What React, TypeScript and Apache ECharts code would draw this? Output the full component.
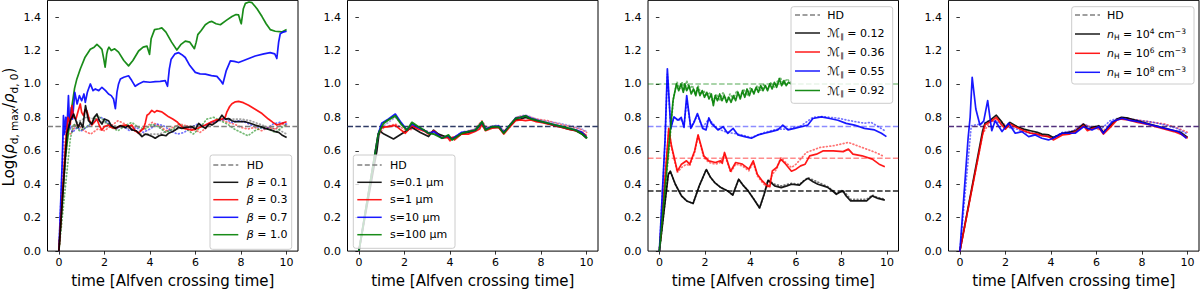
import React, { useEffect, useRef } from "react";
import * as echarts from "echarts";

// ---------------- DATA ----------------
const HD_LEVEL = 0.745;
const P3_LEVELS = { green: 1.0, blue: 0.745, red: 0.555, black: 0.36 };
const X_TICKS = [0, 2, 4, 6, 8, 10];
const Y_TICKS = [0, 0.2, 0.4, 0.6, 0.8, 1.0, 1.2, 1.4];

// Panel 1 (beta)
const beta01 = [[0,0],[0.35,0.7],[0.5,0.78],[0.65,0.82],[0.75,0.78],[0.85,0.74],[0.94,0.77],[1.05,0.74],[1.17,0.87],[1.3,0.78],[1.45,0.76],[1.55,0.8],[1.67,0.82],[1.78,0.78],[1.89,0.76],[2.0,0.79],[2.18,0.78],[2.3,0.75],[2.48,0.735],[2.7,0.75],[2.92,0.74],[3.05,0.75],[3.2,0.725],[3.4,0.72],[3.65,0.685],[3.8,0.7],[3.94,0.695],[4.1,0.685],[4.23,0.675],[4.4,0.69],[4.52,0.695],[4.7,0.69],[4.82,0.705],[5.0,0.715],[5.11,0.724],[5.25,0.74],[5.4,0.734],[5.6,0.74],[5.84,0.744],[6.0,0.73],[6.14,0.764],[6.3,0.745],[6.43,0.734],[6.6,0.76],[6.72,0.754],[6.9,0.77],[7.01,0.783],[7.16,0.813],[7.3,0.79],[7.45,0.793],[7.6,0.78],[7.74,0.774],[8.0,0.775],[8.18,0.774],[8.4,0.765],[8.62,0.754],[8.85,0.745],[9.06,0.734],[9.3,0.725],[9.5,0.715],[9.65,0.71],[9.79,0.695],[10,0.68]];
const beta03 = [[0,0],[0.3,0.65],[0.4,0.8],[0.5,0.76],[0.57,0.87],[0.65,0.8],[0.75,0.79],[0.85,0.84],[0.94,0.88],[1.0,0.83],[1.08,0.81],[1.15,0.845],[1.23,0.84],[1.35,0.78],[1.45,0.754],[1.55,0.77],[1.67,0.79],[1.78,0.75],[1.89,0.724],[2.0,0.745],[2.18,0.754],[2.3,0.74],[2.48,0.734],[2.7,0.75],[2.92,0.754],[3.05,0.745],[3.2,0.754],[3.35,0.72],[3.5,0.705],[3.6,0.72],[3.72,0.734],[3.8,0.77],[3.87,0.813],[3.95,0.82],[4.08,0.842],[4.2,0.83],[4.3,0.84],[4.52,0.833],[4.65,0.82],[4.82,0.803],[5.0,0.79],[5.18,0.774],[5.35,0.75],[5.48,0.734],[5.65,0.73],[5.84,0.724],[6.1,0.735],[6.43,0.754],[6.65,0.77],[6.87,0.783],[7.16,0.79],[7.3,0.8],[7.38,0.833],[7.5,0.865],[7.6,0.882],[7.75,0.893],[7.89,0.896],[8.1,0.888],[8.33,0.872],[8.6,0.85],[8.92,0.823],[9.2,0.79],[9.4,0.77],[9.57,0.754],[9.79,0.764],[10,0.774]];
const beta07 = [[0,0],[0.15,0.55],[0.2,0.81],[0.25,0.7],[0.3,0.8],[0.35,0.72],[0.42,0.93],[0.47,0.74],[0.55,0.86],[0.6,0.79],[0.7,0.95],[0.8,0.88],[0.9,0.93],[1.0,0.9],[1.1,0.94],[1.16,0.89],[1.25,0.95],[1.38,1.0],[1.5,0.96],[1.6,0.97],[1.75,0.96],[1.89,0.98],[2.05,0.96],[2.18,0.94],[2.3,0.93],[2.4,0.91],[2.48,0.852],[2.55,0.951],[2.62,1.0],[2.7,1.03],[2.85,1.04],[3.06,1.049],[3.2,1.02],[3.35,0.986],[3.5,1.0],[3.72,1.014],[4.0,1.01],[4.23,1.014],[4.45,1.015],[4.67,1.02],[4.77,0.986],[4.85,1.09],[4.93,1.148],[5.1,1.18],[5.26,1.187],[5.4,1.175],[5.55,1.158],[5.75,1.11],[5.99,1.069],[6.2,1.06],[6.43,1.059],[6.7,1.05],[6.94,1.045],[7.1,1.02],[7.2,1.0],[7.35,1.08],[7.53,1.138],[7.7,1.135],[7.89,1.128],[8.2,1.145],[8.62,1.167],[9.0,1.18],[9.28,1.187],[9.48,1.18],[9.57,1.152],[9.65,1.25],[9.72,1.3],[9.85,1.31],[10,1.315]];
const beta10 = [[0,0],[0.28,0.557],[0.5,0.8],[0.69,0.975],[0.79,1.03],[0.94,1.089],[1.15,1.16],[1.38,1.207],[1.55,1.22],[1.67,1.236],[1.8,1.22],[1.89,1.207],[1.97,1.15],[2.03,1.1],[2.1,1.18],[2.15,1.207],[2.2,1.22],[2.3,1.2],[2.45,1.21],[2.62,1.19],[2.85,1.14],[3.06,1.108],[3.25,1.14],[3.5,1.197],[3.7,1.22],[3.87,1.226],[3.98,1.177],[4.05,1.27],[4.2,1.325],[4.4,1.33],[4.52,1.335],[4.7,1.31],[4.95,1.25],[5.18,1.203],[5.35,1.235],[5.55,1.256],[5.75,1.25],[5.95,1.211],[6.03,1.25],[6.1,1.295],[6.25,1.32],[6.43,1.354],[6.6,1.37],[6.72,1.374],[6.9,1.36],[7.09,1.354],[7.35,1.38],[7.6,1.403],[7.78,1.415],[7.89,1.413],[7.98,1.37],[8.01,1.36],[8.1,1.45],[8.19,1.482],[8.35,1.49],[8.48,1.486],[8.7,1.45],[8.92,1.403],[9.1,1.36],[9.28,1.325],[9.5,1.315],[9.79,1.311],[10,1.325]];
const beta01Dot = [[0,0],[0.4,0.72],[0.8,0.77],[1.2,0.8],[1.6,0.79],[2.0,0.77],[2.4,0.75],[2.8,0.74],[3.2,0.73],[3.6,0.7],[4.0,0.7],[4.4,0.7],[4.8,0.72],[5.2,0.73],[5.6,0.75],[6.0,0.75],[6.4,0.75],[6.8,0.77],[7.2,0.79],[7.6,0.79],[8.0,0.79],[8.4,0.78],[8.8,0.76],[9.2,0.74],[9.6,0.73],[10,0.7]];
const beta03Dot = [[0,0],[0.3,0.72],[0.5,0.7],[0.8,0.76],[1.1,0.72],[1.4,0.7],[1.7,0.73],[2.0,0.72],[2.3,0.75],[2.6,0.78],[2.9,0.76],[3.2,0.73],[3.5,0.71],[3.8,0.74],[4.1,0.77],[4.4,0.75],[4.7,0.72],[5.0,0.74],[5.3,0.76],[5.6,0.75],[5.9,0.73],[6.2,0.71],[6.5,0.74],[6.8,0.77],[7.1,0.79],[7.4,0.77],[7.7,0.76],[8.0,0.74],[8.3,0.73],[8.6,0.74],[8.9,0.72],[9.2,0.74],[9.5,0.73],[9.8,0.76],[10,0.75]];
const beta07Dot = [[0,0],[0.2,0.7],[0.4,0.76],[0.6,0.71],[0.8,0.74],[1.0,0.72],[1.3,0.75],[1.6,0.78],[1.9,0.8],[2.2,0.76],[2.5,0.73],[2.8,0.75],[3.1,0.72],[3.4,0.74],[3.7,0.71],[4.0,0.73],[4.3,0.76],[4.6,0.75],[4.9,0.72],[5.2,0.7],[5.5,0.71],[5.8,0.74],[6.1,0.76],[6.4,0.75],[6.7,0.77],[7.0,0.78],[7.3,0.79],[7.6,0.77],[7.9,0.78],[8.2,0.77],[8.5,0.75],[8.8,0.74],[9.1,0.73],[9.4,0.76],[9.7,0.77],[10,0.76]];
const beta10Dot = [[0,0],[0.5,0.67],[0.65,0.76],[0.9,0.72],[1.2,0.74],[1.5,0.78],[1.7,0.81],[2.0,0.78],[2.3,0.74],[2.6,0.72],[2.9,0.75],[3.2,0.77],[3.5,0.74],[3.8,0.73],[4.1,0.76],[4.4,0.74],[4.7,0.71],[5.0,0.73],[5.3,0.76],[5.6,0.73],[5.9,0.7],[6.2,0.74],[6.5,0.79],[6.8,0.8],[7.1,0.78],[7.4,0.76],[7.7,0.73],[8.0,0.71],[8.3,0.69],[8.6,0.72],[8.9,0.74],[9.2,0.73],[9.5,0.71],[9.8,0.74],[10,0.76]];

// Panel 2 (grain size)
const s01 = [[0,0],[0.79,0.6],[0.9,0.72],[1.1,0.7],[1.52,0.671],[2.04,0.715],[2.33,0.74],[2.7,0.71],[3.06,0.685],[3.28,0.724],[3.5,0.7],[3.7,0.69],[3.9,0.68],[4.1,0.675],[4.3,0.685],[4.5,0.7],[4.8,0.71],[5.1,0.72],[5.4,0.76],[5.55,0.73],[5.85,0.74],[6.14,0.74],[6.36,0.71],[6.58,0.74],[6.88,0.785],[7.1,0.79],[7.32,0.8],[7.55,0.79],[7.76,0.78],[8.0,0.775],[8.34,0.76],[8.6,0.75],[8.93,0.74],[9.2,0.73],[9.52,0.72],[9.8,0.7],[10,0.675]];
const s1 = [[0,0],[0.85,0.7],[1.0,0.74],[1.3,0.745],[1.6,0.752],[1.8,0.73],[2.04,0.705],[2.33,0.75],[2.6,0.73],[2.9,0.715],[3.06,0.7],[3.3,0.72],[3.5,0.69],[3.7,0.675],[3.9,0.68],[4.0,0.66],[4.09,0.68],[4.2,0.665],[4.5,0.7],[4.8,0.7],[5.1,0.715],[5.3,0.73],[5.4,0.76],[5.56,0.72],[5.85,0.735],[6.14,0.74],[6.36,0.7],[6.58,0.735],[6.88,0.78],[7.1,0.785],[7.32,0.78],[7.55,0.785],[7.76,0.775],[8.0,0.77],[8.34,0.76],[8.6,0.75],[8.93,0.74],[9.2,0.73],[9.52,0.72],[9.8,0.71],[10,0.69]];
const s10 = [[0,0],[0.85,0.7],[1.0,0.765],[1.3,0.79],[1.6,0.82],[1.85,0.77],[2.11,0.725],[2.33,0.76],[2.6,0.74],[2.9,0.72],[3.06,0.705],[3.3,0.715],[3.65,0.675],[3.9,0.69],[4.09,0.67],[4.5,0.71],[4.8,0.715],[5.12,0.724],[5.41,0.77],[5.56,0.728],[5.85,0.745],[6.14,0.748],[6.36,0.71],[6.58,0.745],[6.88,0.795],[7.1,0.8],[7.32,0.81],[7.55,0.795],[7.76,0.785],[8.0,0.775],[8.34,0.765],[8.6,0.755],[8.93,0.745],[9.2,0.735],[9.52,0.725],[9.8,0.71],[10,0.68]];
const s100 = [[0,0],[0.85,0.7],[1.08,0.764],[1.3,0.785],[1.6,0.809],[1.85,0.76],[2.11,0.724],[2.33,0.77],[2.6,0.745],[2.9,0.72],[3.06,0.705],[3.3,0.7],[3.65,0.675],[3.94,0.695],[4.09,0.665],[4.53,0.705],[4.8,0.715],[5.12,0.724],[5.41,0.774],[5.56,0.724],[5.85,0.744],[6.14,0.744],[6.36,0.705],[6.58,0.744],[6.88,0.793],[7.1,0.8],[7.32,0.809],[7.55,0.79],[7.76,0.784],[8.0,0.775],[8.34,0.764],[8.6,0.755],[8.93,0.744],[9.2,0.735],[9.52,0.724],[9.8,0.7],[10.03,0.675]];
const s1Dot = [[0,0],[0.85,0.69],[1.1,0.74],[1.6,0.76],[2.1,0.72],[2.6,0.74],[3.1,0.71],[3.6,0.69],[4.1,0.68],[4.6,0.71],[5.1,0.73],[5.4,0.78],[5.6,0.74],[6.1,0.75],[6.4,0.72],[6.9,0.8],[7.3,0.81],[7.8,0.79],[8.3,0.78],[8.8,0.76],[9.3,0.745],[9.8,0.725],[10,0.71]];
const s10Dot = [[0,0],[0.85,0.7],[1.1,0.75],[1.6,0.8],[2.1,0.73],[2.6,0.745],[3.1,0.71],[3.6,0.685],[4.1,0.675],[4.6,0.715],[5.1,0.73],[5.4,0.77],[5.6,0.735],[6.1,0.755],[6.4,0.715],[6.9,0.8],[7.3,0.815],[7.8,0.79],[8.3,0.775],[8.8,0.765],[9.3,0.75],[9.8,0.73],[10,0.715]];

// Panel 3 (Mach number)
const M012 = [[0,0],[0.39,0.458],[0.48,0.478],[0.7,0.4],[0.97,0.33],[1.2,0.3],[1.48,0.285],[1.75,0.39],[2.06,0.488],[2.25,0.44],[2.43,0.41],[2.7,0.38],[3.0,0.36],[3.22,0.335],[3.48,0.43],[3.7,0.39],[3.9,0.36],[4.15,0.31],[4.4,0.258],[4.6,0.34],[4.77,0.423],[4.9,0.41],[5.06,0.39],[5.35,0.38],[5.6,0.39],[5.8,0.4],[6.15,0.395],[6.35,0.42],[6.52,0.435],[6.75,0.415],[6.96,0.4],[7.2,0.39],[7.4,0.38],[7.6,0.36],[7.77,0.34],[7.9,0.35],[8.06,0.36],[8.2,0.33],[8.4,0.3],[8.8,0.3],[9.1,0.3],[9.35,0.33],[9.6,0.315],[9.9,0.305]];
const M012Dot = [[0,0],[0.39,0.458],[0.48,0.478],[0.7,0.4],[0.97,0.33],[1.2,0.3],[1.48,0.285],[1.75,0.39],[2.06,0.488],[2.25,0.44],[2.43,0.41],[2.7,0.38],[3.0,0.36],[3.22,0.335],[3.48,0.43],[3.7,0.39],[3.9,0.36],[4.15,0.31],[4.4,0.258],[4.6,0.34],[4.77,0.425],[5.06,0.4],[5.35,0.39],[5.8,0.405],[6.15,0.4],[6.52,0.44],[7.0,0.41],[7.4,0.385],[7.77,0.345],[8.06,0.365],[8.4,0.31],[8.8,0.31],[9.1,0.31],[9.35,0.335],[9.6,0.32],[9.9,0.31]];
const M036 = [[0,0],[0.38,0.675],[0.41,0.734],[0.53,0.63],[0.79,0.478],[0.97,0.52],[1.19,0.54],[1.33,0.52],[1.55,0.6],[1.7,0.695],[1.95,0.57],[2.17,0.54],[2.46,0.53],[2.68,0.54],[2.76,0.525],[2.86,0.59],[3.13,0.478],[3.35,0.53],[3.64,0.52],[3.93,0.49],[4.12,0.54],[4.3,0.46],[4.52,0.42],[4.74,0.39],[4.85,0.385],[4.96,0.48],[5.15,0.5],[5.33,0.55],[5.55,0.52],[5.8,0.478],[6.0,0.49],[6.2,0.51],[6.4,0.52],[6.6,0.57],[6.9,0.58],[7.2,0.6],[7.63,0.6],[8.07,0.595],[8.3,0.61],[8.5,0.58],[8.9,0.57],[9.35,0.55],[9.65,0.52],[9.9,0.505]];
const M036Dot = [[0,0],[0.38,0.67],[0.41,0.73],[0.53,0.62],[0.79,0.47],[0.97,0.5],[1.19,0.52],[1.33,0.51],[1.55,0.59],[1.7,0.69],[1.95,0.56],[2.17,0.53],[2.46,0.52],[2.68,0.53],[2.86,0.58],[3.13,0.47],[3.35,0.52],[3.64,0.51],[3.93,0.48],[4.12,0.53],[4.3,0.45],[4.52,0.41],[4.74,0.38],[4.96,0.46],[5.15,0.49],[5.33,0.56],[5.55,0.53],[5.8,0.5],[6.0,0.52],[6.2,0.55],[6.45,0.59],[7.05,0.62],[7.63,0.63],[8.3,0.65],[8.9,0.62],[9.5,0.59],[9.8,0.57]];
const M055 = [[0,0],[0.25,0.67],[0.35,1.09],[0.5,0.734],[0.64,0.803],[0.82,0.783],[0.96,0.8],[1.08,0.74],[1.2,0.93],[1.38,0.734],[1.52,0.77],[1.67,0.823],[1.81,0.77],[1.9,0.734],[2.05,0.725],[2.17,0.797],[2.28,0.764],[2.43,0.744],[2.57,0.725],[2.8,0.744],[3.0,0.705],[3.24,0.734],[3.45,0.695],[3.74,0.685],[4.04,0.675],[4.33,0.695],[4.62,0.705],[4.91,0.715],[5.2,0.725],[5.42,0.754],[5.65,0.725],[5.94,0.734],[6.23,0.744],[6.52,0.754],[6.74,0.793],[7.11,0.803],[7.48,0.793],[7.84,0.783],[8.2,0.764],[8.57,0.754],[9.0,0.734],[9.45,0.725],[9.75,0.705],[9.97,0.685]];
const M055Dot = [[0,0],[0.25,0.66],[0.35,1.06],[0.5,0.74],[0.64,0.8],[0.82,0.78],[0.96,0.79],[1.08,0.75],[1.2,0.9],[1.38,0.74],[1.67,0.81],[1.9,0.74],[2.17,0.79],[2.57,0.73],[3.0,0.71],[3.45,0.7],[4.04,0.68],[4.62,0.71],[5.2,0.73],[5.65,0.73],[6.23,0.75],[6.74,0.8],[7.11,0.805],[7.48,0.8],[7.84,0.795],[8.2,0.785],[8.57,0.775],[9.0,0.765],[9.3,0.77],[9.6,0.745],[9.9,0.72]];
const M092 = [[0,0],[0.41,0.62],[0.6,0.9],[0.75,1.0],[0.85,0.96],[0.95,1.0],[1.05,0.95],[1.12,1.0],[1.2,0.96],[1.3,0.99],[1.4,0.94],[1.5,0.97],[1.6,0.93],[1.68,0.98],[1.78,0.93],[1.88,0.96],[1.98,0.92],[2.08,0.95],[2.18,0.91],[2.28,0.94],[2.37,0.87],[2.45,0.93],[2.55,0.9],[2.65,0.94],[2.75,0.9],[2.85,0.93],[2.95,0.89],[3.05,0.92],[3.15,0.89],[3.25,0.93],[3.35,0.9],[3.45,0.95],[3.55,0.91],[3.65,0.96],[3.75,0.92],[3.85,0.97],[3.95,0.93],[4.05,0.97],[4.15,0.94],[4.25,0.98],[4.35,0.95],[4.45,0.99],[4.55,0.96],[4.65,0.99],[4.75,0.96],[4.85,1.0],[4.95,0.97],[5.05,1.01],[5.15,0.98],[5.27,1.03],[5.37,0.99],[5.47,1.02],[5.57,0.99],[5.67,1.01],[5.77,1.0]];
const M092Dot = [[0,0],[0.45,0.64],[0.62,0.92],[0.78,1.01],[0.9,0.97],[1.0,1.01],[1.1,0.96],[1.2,1.02],[1.32,0.97],[1.45,0.99],[1.58,0.94],[1.7,0.99],[1.82,0.94],[1.95,0.96],[2.05,0.93],[2.2,0.95],[2.35,0.89],[2.5,0.94],[2.65,0.9],[2.8,0.95],[2.95,0.9],[3.1,0.94],[3.25,0.91],[3.4,0.96],[3.55,0.92],[3.7,0.97],[3.85,0.93],[4.0,0.98],[4.15,0.95],[4.3,0.99],[4.45,0.96],[4.6,1.0],[4.75,0.97],[4.9,1.01],[5.05,0.98],[5.2,1.02],[5.3,1.04],[5.45,1.0],[5.6,1.03],[5.77,1.01]];

// Panel 4 (density)
const nH4 = [[0,0],[1.0,0.72],[1.1,0.764],[1.35,0.785],[1.6,0.813],[1.8,0.78],[2.0,0.74],[2.2,0.77],[2.5,0.745],[2.8,0.73],[3.1,0.72],[3.4,0.71],[3.6,0.7],[3.9,0.695],[4.1,0.68],[4.5,0.705],[4.8,0.71],[5.1,0.72],[5.43,0.76],[5.6,0.73],[5.85,0.74],[6.1,0.75],[6.3,0.71],[6.6,0.75],[6.9,0.79],[7.1,0.8],[7.4,0.795],[7.8,0.78],[8.2,0.765],[8.6,0.75],[9.0,0.735],[9.4,0.72],[9.7,0.71],[10,0.68]];
const nH6 = [[0,0],[1.0,0.7],[1.1,0.755],[1.35,0.775],[1.6,0.8],[1.8,0.76],[2.0,0.73],[2.2,0.76],[2.5,0.74],[2.8,0.72],[3.1,0.705],[3.4,0.7],[3.6,0.69],[3.9,0.685],[4.1,0.665],[4.5,0.695],[4.8,0.7],[5.1,0.715],[5.43,0.75],[5.6,0.72],[5.85,0.735],[6.1,0.74],[6.3,0.7],[6.6,0.74],[6.9,0.785],[7.1,0.79],[7.4,0.785],[7.8,0.77],[8.2,0.76],[8.6,0.745],[9.0,0.73],[9.4,0.715],[9.7,0.7],[10,0.675]];
const nH8 = [[0,0],[0.36,0.675],[0.45,0.8],[0.54,1.04],[0.7,0.85],[0.88,0.754],[1.05,0.78],[1.22,0.9],[1.4,0.72],[1.55,0.78],[1.85,0.715],[2.14,0.765],[2.43,0.705],[2.72,0.715],[3.02,0.685],[3.31,0.695],[3.6,0.675],[3.89,0.665],[4.1,0.675],[4.48,0.705],[5.06,0.705],[5.43,0.744],[5.8,0.724],[6.1,0.744],[6.3,0.705],[6.68,0.774],[7.12,0.795],[7.4,0.784],[7.84,0.774],[8.43,0.754],[9.0,0.734],[9.6,0.715],[9.95,0.675]];
const nH8Dot = [[0,0],[0.5,0.75],[0.9,0.76],[1.3,0.78],[1.7,0.77],[2.1,0.74],[2.5,0.73],[2.9,0.71],[3.3,0.7],[3.7,0.69],[4.1,0.68],[4.5,0.71],[5.0,0.72],[5.4,0.76],[5.8,0.74],[6.2,0.73],[6.6,0.78],[7.1,0.8],[7.5,0.79],[8.0,0.78],[8.5,0.77],[9.0,0.755],[9.5,0.735],[10,0.7]];
const nH6Dot = [[0,0],[1.0,0.7],[1.3,0.77],[1.7,0.79],[2.1,0.74],[2.5,0.745],[2.9,0.72],[3.3,0.7],[3.7,0.69],[4.1,0.675],[4.5,0.7],[5.0,0.72],[5.4,0.76],[5.8,0.74],[6.3,0.72],[6.6,0.76],[7.1,0.8],[7.5,0.79],[8.0,0.78],[8.5,0.77],[9.0,0.76],[9.5,0.74],[10,0.71]];

// ---------------- STYLE ----------------
const FONT = "DejaVu Sans";
const GRID_LEFTS = [47.5, 347.5, 648, 948.5];
const GRID_W = 250.5;
const GRID_TOP = 0.35;
const GRID_H = 254;

function solid(data: number[][], i: number, color: string, z = 3, opacity = 0.9, width = 1.7) {
  return {
    type: "line", xAxisIndex: i, yAxisIndex: i, data, symbol: "none", silent: true, z,
    lineStyle: { color, width, opacity, join: "round" },
  };
}
function dotted(data: number[][], i: number, color: string, z = 2, opacity = 0.55) {
  return {
    type: "line", xAxisIndex: i, yAxisIndex: i, data, symbol: "none", silent: true, z,
    lineStyle: { color, width: 1.7, opacity, type: [0.8, 2.6], cap: "round" },
  };
}
function hline(level: number, i: number, color: string, opacity = 1) {
  return {
    type: "line", xAxisIndex: i, yAxisIndex: i, data: [[-0.5, level], [10.5, level]],
    symbol: "none", silent: true, z: 4,
    lineStyle: { color, width: 1.5, opacity, type: [5.5, 2.4] },
  };
}

const LF = 11;
const richMath = {
  it: { fontFamily: FONT, fontSize: LF, fontStyle: "italic", fill: "#000", verticalAlign: "middle", lineHeight: 14 },
  n: { fontFamily: FONT, fontSize: LF, fill: "#000", verticalAlign: "middle", lineHeight: 14 },
  m: { fontFamily: FONT, fontSize: 12, fill: "#000", verticalAlign: "middle", lineHeight: 14 },
  sub: { fontFamily: FONT, fontSize: 7.5, fill: "#000", verticalAlign: "bottom", lineHeight: 8 },
  sup: { fontFamily: FONT, fontSize: 7.5, fill: "#000", verticalAlign: "top", lineHeight: 8 },
};

function legend(box: number[], handleX: number[], textX: number, rows: { y: number; color: string; dash?: boolean; text: string }[]) {
  const children: any[] = [
    {
      type: "rect", shape: { x: box[0], y: box[1], width: box[2] - box[0], height: box[3] - box[1], r: 2.5 },
      style: { fill: "rgba(255,255,255,0.8)", stroke: "#cccccc", lineWidth: 1 }, z: 100,
    },
  ];
  rows.forEach((r) => {
    children.push({
      type: "line", shape: { x1: handleX[0], y1: r.y, x2: handleX[1], y2: r.y },
      style: { stroke: r.color, lineWidth: 1.5, lineDash: r.dash ? [5, 2.5] : null, opacity: r.dash ? 1 : 0.9 }, z: 101,
    });
    children.push({
      type: "text", x: textX, y: r.y, z: 101,
      style: { text: r.text, rich: richMath, fontFamily: FONT, fontSize: LF, fill: "#000", align: "left", verticalAlign: "middle" },
    });
  });
  return children;
}

export default function App() {
  const ref = useRef<HTMLDivElement>(null);
  useEffect(() => {
    if (!ref.current) return;
    const chart = echarts.init(ref.current, undefined, { renderer: "svg" });
    const grids = GRID_LEFTS.map((l) => ({
      left: l, top: GRID_TOP, width: GRID_W, height: GRID_H, show: true,
      borderColor: "#000", borderWidth: 1, backgroundColor: "transparent",
    }));
    const xAxes = GRID_LEFTS.map((_, i) => ({
      type: "value", gridIndex: i, min: -0.5, max: 10.5,
      axisLine: { show: false }, splitLine: { show: false },
      axisTick: { show: true, length: 3.5, lineStyle: { color: "#000", width: 0.8 }, customValues: X_TICKS },
      axisLabel: { color: "#000", fontFamily: FONT, fontSize: 11, margin: 6, customValues: X_TICKS, formatter: (v: number) => String(v) },
      name: "time [Alfven crossing time]", nameLocation: "middle", nameGap: 20,
      nameTextStyle: { color: "#000", fontFamily: FONT, fontSize: 15, verticalAlign: "top" },
    }));
    const yAxes = GRID_LEFTS.map((_, i) => ({
      type: "value", gridIndex: i, min: 0, max: 1.5,
      axisLine: { show: false }, splitLine: { show: false },
      axisTick: { show: true, length: 3.5, lineStyle: { color: "#000", width: 0.8 }, customValues: Y_TICKS },
      axisLabel: { color: "#000", fontFamily: FONT, fontSize: 11, margin: 6.5, customValues: Y_TICKS, formatter: (v: number) => v.toFixed(1) },
    }));

    const series: any[] = [
      // panel 1
      dotted(beta01Dot, 0, "#555555"), dotted(beta03Dot, 0, "#ff0000"), dotted(beta07Dot, 0, "#0000ff"), dotted(beta10Dot, 0, "#008000"),
      hline(HD_LEVEL, 0, "#808080"),
      solid(beta10, 0, "#008000", 5), solid(beta07, 0, "#0000ff", 6), solid(beta03, 0, "#ff0000", 7), solid(beta01, 0, "#000000", 8),
      // panel 2
      dotted(s1Dot, 1, "#ff0000"), dotted(s10Dot, 1, "#6a4fd0"),
      hline(HD_LEVEL, 1, "#2f3b66"),
      solid(s01, 1, "#000000", 5), solid(s1, 1, "#ff0000", 6), solid(s10, 1, "#0000ff", 7), solid(s100, 1, "#008000", 8, 0.9, 1.9),
      // panel 3
      hline(P3_LEVELS.green, 2, "#008000", 0.45), hline(P3_LEVELS.blue, 2, "#0000ff", 0.45),
      hline(P3_LEVELS.red, 2, "#ff0000", 0.45), hline(P3_LEVELS.black, 2, "#000000", 0.85),
      dotted(M012Dot, 2, "#000000"), dotted(M036Dot, 2, "#ff0000"), dotted(M055Dot, 2, "#0000ff"), dotted(M092Dot, 2, "#008000"),
      solid(M012, 2, "#000000", 5), solid(M036, 2, "#ff0000", 6), solid(M055, 2, "#0000ff", 7), solid(M092, 2, "#008000", 8),
      // panel 4
      dotted(nH6Dot, 3, "#ff0000"), dotted(nH8Dot, 3, "#0000ff"),
      hline(HD_LEVEL, 3, "#52307c"),
      solid(nH4, 3, "#000000", 5), solid(nH6, 3, "#ff0000", 6), solid(nH8, 3, "#0000ff", 7),
    ];

    const rowsY5 = [165, 182.3, 199.7, 217.3, 234.7];
    const graphic: any[] = [
      {
        type: "text", x: 9, y: 127, rotation: Math.PI / 2, z: 50,
        style: {
          text: "{a|Log(}{i|ρ}{s|d, max}{a|/}{i|ρ}{s|d, 0}{a|)}",
          align: "center", verticalAlign: "middle",
          rich: {
            a: { fontFamily: FONT, fontSize: 15, fill: "#000", verticalAlign: "middle", lineHeight: 20 },
            i: { fontFamily: FONT, fontSize: 15, fontStyle: "italic", fill: "#000", verticalAlign: "middle", lineHeight: 20 },
            s: { fontFamily: FONT, fontSize: 10.5, fill: "#000", verticalAlign: "bottom", lineHeight: 11 },
          },
        },
      },
      ...legend([210, 155, 291.7, 249.3], [213.3, 238.3], 246.7, [
        { y: rowsY5[0], color: "#808080", dash: true, text: "HD" },
        { y: rowsY5[1], color: "#000000", text: "{it|β}{n| = 0.1}" },
        { y: rowsY5[2], color: "#ff0000", text: "{it|β}{n| = 0.3}" },
        { y: rowsY5[3], color: "#0000ff", text: "{it|β}{n| = 0.7}" },
        { y: rowsY5[4], color: "#008000", text: "{it|β}{n| = 1.0}" },
      ]),
      ...legend([353.3, 155, 455, 248.3], [357.3, 381.7], 390, [
        { y: rowsY5[0], color: "#808080", dash: true, text: "HD" },
        { y: rowsY5[1], color: "#000000", text: "s=0.1 μm" },
        { y: rowsY5[2], color: "#ff0000", text: "s=1 μm" },
        { y: rowsY5[3], color: "#0000ff", text: "s=10 μm" },
        { y: rowsY5[4], color: "#008000", text: "s=100 μm" },
      ]),
      ...legend([791, 6.7, 892.7, 103.3], [795, 820], 827.3, [
        { y: 15, color: "#808080", dash: true, text: "HD" },
        { y: 33, color: "#000000", text: "{m|ℳ}{sub|∥}{n| = 0.12}" },
        { y: 52, color: "#ff0000", text: "{m|ℳ}{sub|∥}{n| = 0.36}" },
        { y: 71, color: "#0000ff", text: "{m|ℳ}{sub|∥}{n| = 0.55}" },
        { y: 90.5, color: "#008000", text: "{m|ℳ}{sub|∥}{n| = 0.92}" },
      ]),
      ...legend([1071.7, 6.7, 1194, 84], [1075, 1100], 1107, [
        { y: 15, color: "#808080", dash: true, text: "HD" },
        { y: 34, color: "#000000", text: "{it|n}{sub|H}{n| = 10}{sup|4}{n| cm}{sup|−3}" },
        { y: 53.3, color: "#ff0000", text: "{it|n}{sub|H}{n| = 10}{sup|6}{n| cm}{sup|−3}" },
        { y: 72.3, color: "#0000ff", text: "{it|n}{sub|H}{n| = 10}{sup|8}{n| cm}{sup|−3}" },
      ]),
    ];

    chart.setOption({
      animation: false,
      backgroundColor: "#ffffff",
      textStyle: { fontFamily: FONT },
      grid: grids, xAxis: xAxes, yAxis: yAxes, series, graphic,
    });
    return () => chart.dispose();
  }, []);
  return <div ref={ref} style={{ position: "absolute", left: 0, top: 0, width: 1200, height: 293 }} />;
}
